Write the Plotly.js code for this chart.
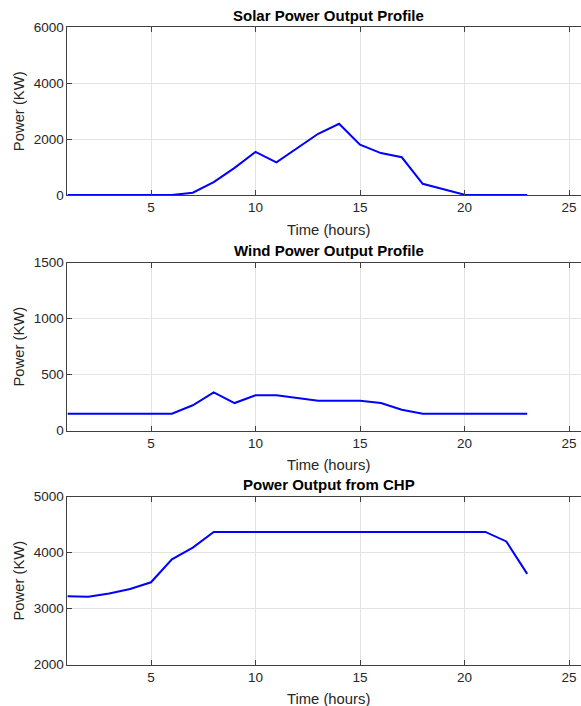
<!DOCTYPE html>
<html>
<head>
<meta charset="utf-8">
<script src="https://cdn.plot.ly/plotly-3.0.1.min.js"></script>
<style>
html,body{margin:0;padding:0;background:#fff;}
#chart{width:581px;height:706px;}
</style>
</head>
<body>
<div id="chart"></div>
<script>
// ---- data ----
var hours = [1,2,3,4,5,6,7,8,9,10,11,12,13,14,15,16,17,18,19,20,21,22,23];
var solarKW = [0,0,0,0,0,0,80,460,970,1540,1170,1680,2190,2550,1800,1500,1350,400,200,10,0,0,0];
var windKW = [150,150,150,150,150,150,225,340,245,315,315,290,265,265,265,245,185,150,150,150,150,150,150];
var chpKW = [3220,3210,3270,3350,3470,3880,4090,4370,4370,4370,4370,4370,4370,4370,4370,4370,4370,4370,4370,4370,4370,4200,3620];
var titles = ['Solar Power Output Profile','Wind Power Output Profile','Power Output from CHP'];
var xLabel = 'Time (hours)';
var yLabel = 'Power (KW)';
var yRanges = [[0,6000],[0,1500],[2000,5000]];
var yTicks = [[0,2000,4000,6000],[0,500,1000,1500],[2000,3000,4000,5000]];
var xTicks = [5,10,15,20,25];

// ---- layout geometry (pixels) ----
var W = 581, H = 706;
var plotLeft = 67.4;
var unitPx = 20.9;
var tops = [27.3, 262.5, 496.7];
var bottoms = [195, 430.5, 664.5];
var textColor = '#262626';
var fontFam = 'Liberation Sans, Arial, Helvetica, sans-serif';

var series = [solarKW, windKW, chpKW];
var data = [];
var layout = {
  width: W, height: H,
  margin: {l:0, r:0, t:0, b:0, pad:0},
  paper_bgcolor: '#ffffff',
  plot_bgcolor: '#ffffff',
  showlegend: false,
  font: {family: fontFam, size: 13.5, color: textColor},
  annotations: []
};

for (var i = 0; i < 3; i++) {
  var sfx = i === 0 ? '' : String(i + 1);
  data.push({
    x: hours, y: series[i], type: 'scatter', mode: 'lines',
    line: {color: '#0000ff', width: 2},
    xaxis: 'x' + sfx, yaxis: 'y' + sfx, hoverinfo: 'x+y'
  });
  var common = {
    showline: true, linecolor: '#404040', linewidth: 1,
    ticks: 'inside', ticklen: 5, tickwidth: 1, tickcolor: '#404040',
    showgrid: true, gridcolor: '#e3e3e3', gridwidth: 1, zeroline: false,
    tickfont: {family: fontFam, size: 13.5, color: textColor},
    fixedrange: true
  };
  var xa = Object.assign({}, common, {
    mirror: 'ticks',
    domain: [plotLeft / W, 1],
    range: [1, 1 + (W - plotLeft) / unitPx],
    tickmode: 'array', tickvals: xTicks, ticktext: xTicks.map(String),
    anchor: 'y' + sfx
  });
  var ya = Object.assign({}, common, {
    mirror: false,
    domain: [1 - bottoms[i] / H, 1 - tops[i] / H],
    range: yRanges[i],
    tickmode: 'array', tickvals: yTicks[i], ticktext: yTicks[i].map(String),
    anchor: 'x' + sfx
  });
  layout['xaxis' + sfx] = xa;
  layout['yaxis' + sfx] = ya;

  var midX = (plotLeft + 12.5 * unitPx) / W;
  layout.annotations.push({
    text: '<b>' + titles[i] + '</b>', xref: 'paper', yref: 'paper',
    x: midX, y: 1 - (tops[i] - 11.8) / H, xanchor: 'center', yanchor: 'middle',
    showarrow: false, font: {family: fontFam, size: 15, color: '#000000'}
  });
  layout.annotations.push({
    text: xLabel, xref: 'paper', yref: 'paper',
    x: midX, y: 1 - (bottoms[i] + 34.5) / H, xanchor: 'center', yanchor: 'middle',
    showarrow: false, font: {family: fontFam, size: 14.8, color: textColor}
  });
  layout.annotations.push({
    text: yLabel, xref: 'paper', yref: 'paper', textangle: -90,
    x: 19 / W, y: 1 - (tops[i] + bottoms[i]) / 2 / H, xanchor: 'center', yanchor: 'middle',
    showarrow: false, font: {family: fontFam, size: 14.8, color: textColor}
  });
}

Plotly.newPlot('chart', data, layout, {displayModeBar: false, staticPlot: true});
</script>
</body>
</html>
